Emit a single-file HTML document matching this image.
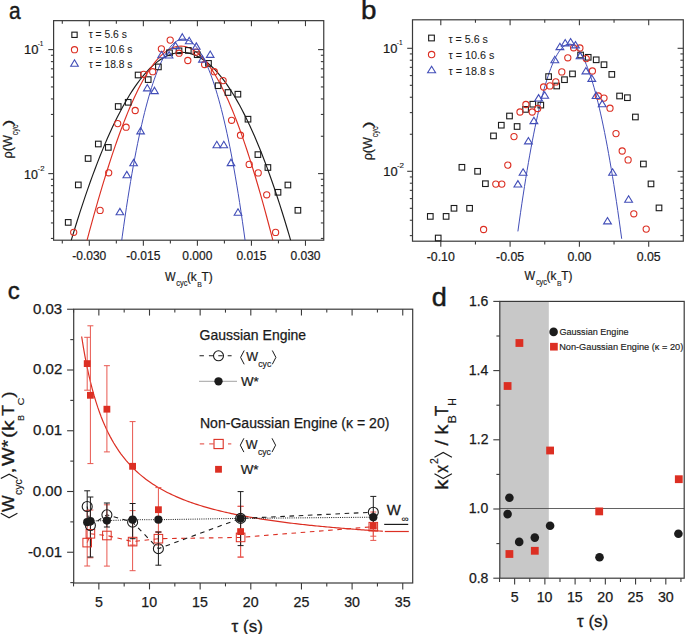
<!DOCTYPE html>
<html><head><meta charset="utf-8"><style>
html,body{margin:0;padding:0;background:#fff;}
svg{display:block;font-family:"Liberation Sans",sans-serif;}
</style></head><body>
<svg width="685" height="634" viewBox="0 0 685 634" font-family="Liberation Sans, sans-serif">
<defs>
<clipPath id="clipA"><rect x="53.6" y="20.65" width="270.15" height="219.55"/></clipPath>
<clipPath id="clipC"><rect x="73.7" y="309.2" width="339" height="273.8"/></clipPath>
</defs>
<rect width="685" height="634" fill="#fff"/>
<rect x="53.6" y="20.65" width="270.15" height="219.55" fill="none" stroke="#3a3a3a" stroke-width="1.2"/>
<line x1="62.3" y1="240.2" x2="62.3" y2="243.4" stroke="#3a3a3a" stroke-width="1.1"/>
<line x1="62.3" y1="20.65" x2="62.3" y2="23.65" stroke="#3a3a3a" stroke-width="1.1"/>
<line x1="89.32" y1="240.2" x2="89.32" y2="245.8" stroke="#3a3a3a" stroke-width="1.1"/>
<line x1="89.32" y1="20.65" x2="89.32" y2="26.15" stroke="#3a3a3a" stroke-width="1.1"/>
<line x1="116.34" y1="240.2" x2="116.34" y2="243.4" stroke="#3a3a3a" stroke-width="1.1"/>
<line x1="116.34" y1="20.65" x2="116.34" y2="23.65" stroke="#3a3a3a" stroke-width="1.1"/>
<line x1="143.36" y1="240.2" x2="143.36" y2="245.8" stroke="#3a3a3a" stroke-width="1.1"/>
<line x1="143.36" y1="20.65" x2="143.36" y2="26.15" stroke="#3a3a3a" stroke-width="1.1"/>
<line x1="170.38" y1="240.2" x2="170.38" y2="243.4" stroke="#3a3a3a" stroke-width="1.1"/>
<line x1="170.38" y1="20.65" x2="170.38" y2="23.65" stroke="#3a3a3a" stroke-width="1.1"/>
<line x1="197.4" y1="240.2" x2="197.4" y2="245.8" stroke="#3a3a3a" stroke-width="1.1"/>
<line x1="197.4" y1="20.65" x2="197.4" y2="26.15" stroke="#3a3a3a" stroke-width="1.1"/>
<line x1="224.42" y1="240.2" x2="224.42" y2="243.4" stroke="#3a3a3a" stroke-width="1.1"/>
<line x1="224.42" y1="20.65" x2="224.42" y2="23.65" stroke="#3a3a3a" stroke-width="1.1"/>
<line x1="251.44" y1="240.2" x2="251.44" y2="245.8" stroke="#3a3a3a" stroke-width="1.1"/>
<line x1="251.44" y1="20.65" x2="251.44" y2="26.15" stroke="#3a3a3a" stroke-width="1.1"/>
<line x1="278.46" y1="240.2" x2="278.46" y2="243.4" stroke="#3a3a3a" stroke-width="1.1"/>
<line x1="278.46" y1="20.65" x2="278.46" y2="23.65" stroke="#3a3a3a" stroke-width="1.1"/>
<line x1="305.48" y1="240.2" x2="305.48" y2="245.8" stroke="#3a3a3a" stroke-width="1.1"/>
<line x1="305.48" y1="20.65" x2="305.48" y2="26.15" stroke="#3a3a3a" stroke-width="1.1"/>
<line x1="50.9" y1="238.44" x2="53.6" y2="238.44" stroke="#3a3a3a" stroke-width="1.1"/>
<line x1="320.85" y1="238.44" x2="323.75" y2="238.44" stroke="#3a3a3a" stroke-width="1.1"/>
<line x1="50.9" y1="222.94" x2="53.6" y2="222.94" stroke="#3a3a3a" stroke-width="1.1"/>
<line x1="320.85" y1="222.94" x2="323.75" y2="222.94" stroke="#3a3a3a" stroke-width="1.1"/>
<line x1="50.9" y1="210.93" x2="53.6" y2="210.93" stroke="#3a3a3a" stroke-width="1.1"/>
<line x1="320.85" y1="210.93" x2="323.75" y2="210.93" stroke="#3a3a3a" stroke-width="1.1"/>
<line x1="50.9" y1="201.11" x2="53.6" y2="201.11" stroke="#3a3a3a" stroke-width="1.1"/>
<line x1="320.85" y1="201.11" x2="323.75" y2="201.11" stroke="#3a3a3a" stroke-width="1.1"/>
<line x1="50.9" y1="192.81" x2="53.6" y2="192.81" stroke="#3a3a3a" stroke-width="1.1"/>
<line x1="320.85" y1="192.81" x2="323.75" y2="192.81" stroke="#3a3a3a" stroke-width="1.1"/>
<line x1="50.9" y1="185.62" x2="53.6" y2="185.62" stroke="#3a3a3a" stroke-width="1.1"/>
<line x1="320.85" y1="185.62" x2="323.75" y2="185.62" stroke="#3a3a3a" stroke-width="1.1"/>
<line x1="50.9" y1="179.27" x2="53.6" y2="179.27" stroke="#3a3a3a" stroke-width="1.1"/>
<line x1="320.85" y1="179.27" x2="323.75" y2="179.27" stroke="#3a3a3a" stroke-width="1.1"/>
<line x1="48.3" y1="173.6" x2="53.6" y2="173.6" stroke="#3a3a3a" stroke-width="1.1"/>
<line x1="318.05" y1="173.6" x2="323.75" y2="173.6" stroke="#3a3a3a" stroke-width="1.1"/>
<line x1="50.9" y1="136.27" x2="53.6" y2="136.27" stroke="#3a3a3a" stroke-width="1.1"/>
<line x1="320.85" y1="136.27" x2="323.75" y2="136.27" stroke="#3a3a3a" stroke-width="1.1"/>
<line x1="50.9" y1="114.44" x2="53.6" y2="114.44" stroke="#3a3a3a" stroke-width="1.1"/>
<line x1="320.85" y1="114.44" x2="323.75" y2="114.44" stroke="#3a3a3a" stroke-width="1.1"/>
<line x1="50.9" y1="98.94" x2="53.6" y2="98.94" stroke="#3a3a3a" stroke-width="1.1"/>
<line x1="320.85" y1="98.94" x2="323.75" y2="98.94" stroke="#3a3a3a" stroke-width="1.1"/>
<line x1="50.9" y1="86.93" x2="53.6" y2="86.93" stroke="#3a3a3a" stroke-width="1.1"/>
<line x1="320.85" y1="86.93" x2="323.75" y2="86.93" stroke="#3a3a3a" stroke-width="1.1"/>
<line x1="50.9" y1="77.11" x2="53.6" y2="77.11" stroke="#3a3a3a" stroke-width="1.1"/>
<line x1="320.85" y1="77.11" x2="323.75" y2="77.11" stroke="#3a3a3a" stroke-width="1.1"/>
<line x1="50.9" y1="68.81" x2="53.6" y2="68.81" stroke="#3a3a3a" stroke-width="1.1"/>
<line x1="320.85" y1="68.81" x2="323.75" y2="68.81" stroke="#3a3a3a" stroke-width="1.1"/>
<line x1="50.9" y1="61.62" x2="53.6" y2="61.62" stroke="#3a3a3a" stroke-width="1.1"/>
<line x1="320.85" y1="61.62" x2="323.75" y2="61.62" stroke="#3a3a3a" stroke-width="1.1"/>
<line x1="50.9" y1="55.27" x2="53.6" y2="55.27" stroke="#3a3a3a" stroke-width="1.1"/>
<line x1="320.85" y1="55.27" x2="323.75" y2="55.27" stroke="#3a3a3a" stroke-width="1.1"/>
<line x1="48.3" y1="49.6" x2="53.6" y2="49.6" stroke="#3a3a3a" stroke-width="1.1"/>
<line x1="318.05" y1="49.6" x2="323.75" y2="49.6" stroke="#3a3a3a" stroke-width="1.1"/>
<text x="72.23" y="259.7" font-size="12" textLength="34.03" lengthAdjust="spacingAndGlyphs" fill="#1a1a1a" stroke="#1a1a1a" stroke-width="0.21">-0.030</text>
<text x="126.31" y="259.7" font-size="12" textLength="34.03" lengthAdjust="spacingAndGlyphs" fill="#1a1a1a" stroke="#1a1a1a" stroke-width="0.21">-0.015</text>
<text x="182.37" y="259.7" font-size="12" textLength="30.03" lengthAdjust="spacingAndGlyphs" fill="#1a1a1a" stroke="#1a1a1a" stroke-width="0.21">0.000</text>
<text x="236.45" y="259.7" font-size="12" textLength="30.03" lengthAdjust="spacingAndGlyphs" fill="#1a1a1a" stroke="#1a1a1a" stroke-width="0.21">0.015</text>
<text x="290.47" y="259.7" font-size="12" textLength="30.03" lengthAdjust="spacingAndGlyphs" fill="#1a1a1a" stroke="#1a1a1a" stroke-width="0.21">0.030</text>
<text x="24.02" y="54.4" font-size="13.5" textLength="14.46" lengthAdjust="spacingAndGlyphs" fill="#1a1a1a" stroke="#1a1a1a" stroke-width="0.24">10</text>
<text x="37.71" y="46.1" font-size="7.6" textLength="5.78" lengthAdjust="spacingAndGlyphs" fill="#1a1a1a" stroke="#1a1a1a" stroke-width="0.14">-1</text>
<text x="24.06" y="178.8" font-size="13.6" textLength="13.9" lengthAdjust="spacingAndGlyphs" fill="#1a1a1a" stroke="#1a1a1a" stroke-width="0.24">10</text>
<text x="37.55" y="170.7" font-size="8" textLength="6.93" lengthAdjust="spacingAndGlyphs" fill="#1a1a1a" stroke="#1a1a1a" stroke-width="0.14">-2</text>
<text x="9.06" y="18.8" font-size="24.5" textLength="11.66" lengthAdjust="spacingAndGlyphs" fill="#1a1a1a" stroke="#1a1a1a" stroke-width="0.44">a</text>
<rect x="71.85" y="32.15" width="5.3" height="5.3" fill="none" stroke="#1c1c1c" stroke-width="1.1"/>
<circle cx="74.5" cy="49.7" r="3.1" fill="none" stroke="#dc2f23" stroke-width="1.1"/>
<path d="M74.5 59.8L78.3 66.2L70.7 66.2Z" fill="none" stroke="#424eb8" stroke-width="1.1" stroke-linejoin="miter"/>
<text x="88.65" y="38.2" font-size="10.3" textLength="38.19" lengthAdjust="spacingAndGlyphs" fill="#1a1a1a" stroke="#1a1a1a" stroke-width="0.06">τ = 5.6 s</text>
<text x="88.65" y="53" font-size="10.3" textLength="43.8" lengthAdjust="spacingAndGlyphs" fill="#1a1a1a" stroke="#1a1a1a" stroke-width="0.06">τ = 10.6 s</text>
<text x="88.65" y="68" font-size="10.3" textLength="43.8" lengthAdjust="spacingAndGlyphs" fill="#1a1a1a" stroke="#1a1a1a" stroke-width="0.06">τ = 18.8 s</text>
<g transform="translate(11.8 157.6) rotate(-90)">
<text x="-0.82" y="0" font-size="12.4" textLength="23.29" lengthAdjust="spacingAndGlyphs" fill="#1a1a1a" stroke="#1a1a1a" stroke-width="0.22">ρ(W</text>
<text x="22.32" y="6" font-size="8.6" textLength="10.66" lengthAdjust="spacingAndGlyphs" fill="#1a1a1a" stroke="#1a1a1a" stroke-width="0.15">cyc</text>
<text x="31.4" y="0" font-size="12.4" textLength="6.66" lengthAdjust="spacingAndGlyphs" fill="#1a1a1a" stroke="#1a1a1a" stroke-width="0.22">)</text>
</g>
<text x="164.94" y="280.9" font-size="13" textLength="10.6" lengthAdjust="spacingAndGlyphs" fill="#1a1a1a" stroke="#1a1a1a" stroke-width="0.23">W</text>
<text x="176.3" y="286.3" font-size="8.8" textLength="11.18" lengthAdjust="spacingAndGlyphs" fill="#1a1a1a" stroke="#1a1a1a" stroke-width="0.16">cyc</text>
<text x="186.9" y="280.9" font-size="13" textLength="9.78" lengthAdjust="spacingAndGlyphs" fill="#1a1a1a" stroke="#1a1a1a" stroke-width="0.23">(k</text>
<text x="197.35" y="286.5" font-size="7.6" textLength="4.61" lengthAdjust="spacingAndGlyphs" fill="#1a1a1a" stroke="#1a1a1a" stroke-width="0.14">B</text>
<text x="201.56" y="280.9" font-size="13" textLength="11.2" lengthAdjust="spacingAndGlyphs" fill="#1a1a1a" stroke="#1a1a1a" stroke-width="0.23">T)</text>
<g clip-path="url(#clipA)">
<path d="M70 244.44 L72.49 236.11 L74.99 227.96 L77.48 219.99 L79.98 212.19 L82.47 204.57 L84.97 197.13 L87.46 189.88 L89.96 182.8 L92.45 175.9 L94.94 169.19 L97.44 162.65 L99.93 156.3 L102.43 150.14 L104.92 144.15 L107.42 138.35 L109.91 132.74 L112.4 127.31 L114.9 122.07 L117.39 117.02 L119.89 112.15 L122.38 107.47 L124.88 102.97 L127.37 98.67 L129.87 94.55 L132.36 90.63 L134.85 86.89 L137.35 83.34 L139.84 79.99 L142.34 76.82 L144.83 73.85 L147.33 71.06 L149.82 68.47 L152.31 66.07 L154.81 63.87 L157.3 61.86 L159.8 60.04 L162.29 58.41 L164.79 56.98 L167.28 55.74 L169.78 54.7 L172.27 53.85 L174.76 53.2 L177.26 52.74 L179.75 52.48 L182.25 52.41 L184.74 52.54 L187.24 52.87 L189.73 53.39 L192.22 54.11 L194.72 55.03 L197.21 56.14 L199.71 57.45 L202.2 58.96 L204.7 60.67 L207.19 62.57 L209.69 64.67 L212.18 66.97 L214.67 69.46 L217.17 72.16 L219.66 75.05 L222.16 78.14 L224.65 81.43 L227.15 84.91 L229.64 88.6 L232.13 92.48 L234.63 96.56 L237.12 100.84 L239.62 105.32 L242.11 110 L244.61 114.87 L247.1 119.94 L249.6 125.21 L252.09 130.68 L254.58 136.35 L257.08 142.22 L259.57 148.28 L262.07 154.54 L264.56 161 L267.06 167.66 L269.55 174.51 L272.04 181.56 L274.54 188.81 L277.03 196.25 L279.53 203.9 L282.02 211.74 L284.52 219.77 L287.01 228 L289.51 236.43 L292 245.06" fill="none" stroke="#1c1c1c" stroke-width="1.15"/>
<path d="M85 247.85 L87.13 239.84 L89.27 231.93 L91.4 224.13 L93.54 216.45 L95.67 208.88 L97.81 201.44 L99.94 194.13 L102.08 186.95 L104.21 179.9 L106.35 173 L108.48 166.25 L110.62 159.64 L112.75 153.19 L114.89 146.89 L117.02 140.76 L119.16 134.79 L121.29 128.99 L123.43 123.37 L125.56 117.92 L127.7 112.65 L129.83 107.56 L131.97 102.65 L134.1 97.94 L136.24 93.41 L138.37 89.08 L140.51 84.94 L142.64 81.01 L144.78 77.27 L146.91 73.74 L149.04 70.41 L151.18 67.29 L153.31 64.37 L155.45 61.67 L157.58 59.18 L159.72 56.91 L161.85 54.84 L163.99 53 L166.12 51.37 L168.26 49.97 L170.39 48.78 L172.53 47.81 L174.66 47.06 L176.8 46.54 L178.93 46.24 L181.07 46.16 L183.2 46.3 L185.34 46.67 L187.47 47.26 L189.61 48.07 L191.74 49.1 L193.88 50.36 L196.01 51.84 L198.15 53.55 L200.28 55.47 L202.42 57.61 L204.55 59.98 L206.69 62.56 L208.82 65.36 L210.96 68.37 L213.09 71.6 L215.22 75.05 L217.36 78.7 L219.49 82.57 L221.63 86.64 L223.76 90.92 L225.9 95.41 L228.03 100.1 L230.17 104.99 L232.3 110.07 L234.44 115.35 L236.57 120.83 L238.71 126.49 L240.84 132.34 L242.98 138.38 L245.11 144.6 L247.25 150.99 L249.38 157.56 L251.52 164.3 L253.65 171.21 L255.79 178.29 L257.92 185.52 L260.06 192.92 L262.19 200.46 L264.33 208.16 L266.46 216 L268.6 223.98 L270.73 232.09 L272.87 240.34 L275 248.72" fill="none" stroke="#dc2f23" stroke-width="1.15"/>
<path d="M120.8 247.2 L122.2 236.85 L123.6 226.83 L124.99 217.14 L126.39 207.78 L127.79 198.73 L129.19 190 L130.58 181.56 L131.98 173.43 L133.38 165.58 L134.78 158.02 L136.18 150.74 L137.57 143.73 L138.97 137 L140.37 130.52 L141.77 124.3 L143.16 118.34 L144.56 112.62 L145.96 107.15 L147.36 101.92 L148.76 96.92 L150.15 92.16 L151.55 87.62 L152.95 83.3 L154.35 79.2 L155.74 75.32 L157.14 71.65 L158.54 68.19 L159.94 64.93 L161.33 61.88 L162.73 59.03 L164.13 56.38 L165.53 53.93 L166.93 51.66 L168.32 49.59 L169.72 47.71 L171.12 46.02 L172.52 44.52 L173.91 43.19 L175.31 42.06 L176.71 41.11 L178.11 40.33 L179.51 39.74 L180.9 39.34 L182.3 39.11 L183.7 39.06 L185.1 39.19 L186.49 39.51 L187.89 40 L189.29 40.67 L190.69 41.53 L192.09 42.57 L193.48 43.79 L194.88 45.19 L196.28 46.79 L197.68 48.56 L199.07 50.53 L200.47 52.69 L201.87 55.04 L203.27 57.58 L204.67 60.32 L206.06 63.26 L207.46 66.41 L208.86 69.75 L210.26 73.3 L211.65 77.07 L213.05 81.04 L214.45 85.23 L215.85 89.65 L217.24 94.28 L218.64 99.15 L220.04 104.25 L221.44 109.58 L222.84 115.15 L224.23 120.97 L225.63 127.04 L227.03 133.36 L228.43 139.94 L229.82 146.78 L231.22 153.9 L232.62 161.29 L234.02 168.96 L235.42 176.92 L236.81 185.17 L238.21 193.72 L239.61 202.58 L241.01 211.75 L242.4 221.24 L243.8 231.05 L245.2 241.19" fill="none" stroke="#424eb8" stroke-width="1"/>
</g>
<rect x="65.4" y="219.6" width="5.6" height="5.6" fill="none" stroke="#1c1c1c" stroke-width="1.1"/>
<rect x="75.5" y="182.1" width="5.6" height="5.6" fill="none" stroke="#1c1c1c" stroke-width="1.1"/>
<rect x="85.3" y="155.7" width="5.6" height="5.6" fill="none" stroke="#1c1c1c" stroke-width="1.1"/>
<rect x="95.5" y="141.2" width="5.6" height="5.6" fill="none" stroke="#1c1c1c" stroke-width="1.1"/>
<rect x="105.5" y="144.6" width="5.6" height="5.6" fill="none" stroke="#1c1c1c" stroke-width="1.1"/>
<rect x="115.4" y="103.7" width="5.6" height="5.6" fill="none" stroke="#1c1c1c" stroke-width="1.1"/>
<rect x="125.4" y="99.5" width="5.6" height="5.6" fill="none" stroke="#1c1c1c" stroke-width="1.1"/>
<rect x="135.3" y="72.2" width="5.6" height="5.6" fill="none" stroke="#1c1c1c" stroke-width="1.1"/>
<rect x="145.4" y="76.8" width="5.6" height="5.6" fill="none" stroke="#1c1c1c" stroke-width="1.1"/>
<rect x="155.6" y="64.1" width="5.6" height="5.6" fill="none" stroke="#1c1c1c" stroke-width="1.1"/>
<rect x="166.7" y="50" width="5.6" height="5.6" fill="none" stroke="#1c1c1c" stroke-width="1.1"/>
<rect x="176.2" y="48" width="5.6" height="5.6" fill="none" stroke="#1c1c1c" stroke-width="1.1"/>
<rect x="185.5" y="47.6" width="5.6" height="5.6" fill="none" stroke="#1c1c1c" stroke-width="1.1"/>
<rect x="194.4" y="51.9" width="5.6" height="5.6" fill="none" stroke="#1c1c1c" stroke-width="1.1"/>
<rect x="205.7" y="60.6" width="5.6" height="5.6" fill="none" stroke="#1c1c1c" stroke-width="1.1"/>
<rect x="215.3" y="82.9" width="5.6" height="5.6" fill="none" stroke="#1c1c1c" stroke-width="1.1"/>
<rect x="225.2" y="89.7" width="5.6" height="5.6" fill="none" stroke="#1c1c1c" stroke-width="1.1"/>
<rect x="235.1" y="91.4" width="5.6" height="5.6" fill="none" stroke="#1c1c1c" stroke-width="1.1"/>
<rect x="245.2" y="116.4" width="5.6" height="5.6" fill="none" stroke="#1c1c1c" stroke-width="1.1"/>
<rect x="255.1" y="151.8" width="5.6" height="5.6" fill="none" stroke="#1c1c1c" stroke-width="1.1"/>
<rect x="265.1" y="164.7" width="5.6" height="5.6" fill="none" stroke="#1c1c1c" stroke-width="1.1"/>
<rect x="275.2" y="189.5" width="5.6" height="5.6" fill="none" stroke="#1c1c1c" stroke-width="1.1"/>
<rect x="285.1" y="182.2" width="5.6" height="5.6" fill="none" stroke="#1c1c1c" stroke-width="1.1"/>
<rect x="295.1" y="207.5" width="5.6" height="5.6" fill="none" stroke="#1c1c1c" stroke-width="1.1"/>
<circle cx="73.7" cy="232.3" r="3.1" fill="none" stroke="#dc2f23" stroke-width="1.1"/>
<circle cx="100.1" cy="210.4" r="3.1" fill="none" stroke="#dc2f23" stroke-width="1.1"/>
<circle cx="108.7" cy="172.8" r="3.1" fill="none" stroke="#dc2f23" stroke-width="1.1"/>
<circle cx="117.7" cy="123.6" r="3.1" fill="none" stroke="#dc2f23" stroke-width="1.1"/>
<circle cx="126.1" cy="127.2" r="3.1" fill="none" stroke="#dc2f23" stroke-width="1.1"/>
<circle cx="135.2" cy="110.5" r="3.1" fill="none" stroke="#dc2f23" stroke-width="1.1"/>
<circle cx="143.7" cy="74.3" r="3.1" fill="none" stroke="#dc2f23" stroke-width="1.1"/>
<circle cx="152.7" cy="71.7" r="3.1" fill="none" stroke="#dc2f23" stroke-width="1.1"/>
<circle cx="161.4" cy="48.8" r="3.1" fill="none" stroke="#dc2f23" stroke-width="1.1"/>
<circle cx="170.2" cy="40.1" r="3.1" fill="none" stroke="#dc2f23" stroke-width="1.1"/>
<circle cx="179.1" cy="53.2" r="3.1" fill="none" stroke="#dc2f23" stroke-width="1.1"/>
<circle cx="187.8" cy="60.5" r="3.1" fill="none" stroke="#dc2f23" stroke-width="1.1"/>
<circle cx="196.2" cy="52.1" r="3.1" fill="none" stroke="#dc2f23" stroke-width="1.1"/>
<circle cx="204.6" cy="64.5" r="3.1" fill="none" stroke="#dc2f23" stroke-width="1.1"/>
<circle cx="214.3" cy="71.7" r="3.1" fill="none" stroke="#dc2f23" stroke-width="1.1"/>
<circle cx="223.1" cy="80.6" r="3.1" fill="none" stroke="#dc2f23" stroke-width="1.1"/>
<circle cx="231.6" cy="120.3" r="3.1" fill="none" stroke="#dc2f23" stroke-width="1.1"/>
<circle cx="240.5" cy="135.2" r="3.1" fill="none" stroke="#dc2f23" stroke-width="1.1"/>
<circle cx="249.2" cy="164.4" r="3.1" fill="none" stroke="#dc2f23" stroke-width="1.1"/>
<circle cx="258.2" cy="172.9" r="3.1" fill="none" stroke="#dc2f23" stroke-width="1.1"/>
<circle cx="266.7" cy="194.8" r="3.1" fill="none" stroke="#dc2f23" stroke-width="1.1"/>
<circle cx="275.6" cy="232.4" r="3.1" fill="none" stroke="#dc2f23" stroke-width="1.1"/>
<path d="M119.9 208.4L123.7 214.8L116.1 214.8Z" fill="none" stroke="#424eb8" stroke-width="1.1" stroke-linejoin="miter"/>
<path d="M126.8 171.4L130.6 177.8L123 177.8Z" fill="none" stroke="#424eb8" stroke-width="1.1" stroke-linejoin="miter"/>
<path d="M133.6 159.4L137.4 165.8L129.8 165.8Z" fill="none" stroke="#424eb8" stroke-width="1.1" stroke-linejoin="miter"/>
<path d="M140.6 127.5L144.4 133.9L136.8 133.9Z" fill="none" stroke="#424eb8" stroke-width="1.1" stroke-linejoin="miter"/>
<path d="M147.3 84.5L151.1 90.9L143.5 90.9Z" fill="none" stroke="#424eb8" stroke-width="1.1" stroke-linejoin="miter"/>
<path d="M154.5 87.2L158.3 93.6L150.7 93.6Z" fill="none" stroke="#424eb8" stroke-width="1.1" stroke-linejoin="miter"/>
<path d="M161.6 51.3L165.4 57.7L157.8 57.7Z" fill="none" stroke="#424eb8" stroke-width="1.1" stroke-linejoin="miter"/>
<path d="M169.1 51.6L172.9 58L165.3 58Z" fill="none" stroke="#424eb8" stroke-width="1.1" stroke-linejoin="miter"/>
<path d="M175.5 42.2L179.3 48.6L171.7 48.6Z" fill="none" stroke="#424eb8" stroke-width="1.1" stroke-linejoin="miter"/>
<path d="M182.3 33.7L186.1 40.1L178.5 40.1Z" fill="none" stroke="#424eb8" stroke-width="1.1" stroke-linejoin="miter"/>
<path d="M189.2 37.3L193 43.7L185.4 43.7Z" fill="none" stroke="#424eb8" stroke-width="1.1" stroke-linejoin="miter"/>
<path d="M196.3 42.9L200.1 49.3L192.5 49.3Z" fill="none" stroke="#424eb8" stroke-width="1.1" stroke-linejoin="miter"/>
<path d="M202.4 55.7L206.2 62.1L198.6 62.1Z" fill="none" stroke="#424eb8" stroke-width="1.1" stroke-linejoin="miter"/>
<path d="M210.2 51L214 57.4L206.4 57.4Z" fill="none" stroke="#424eb8" stroke-width="1.1" stroke-linejoin="miter"/>
<path d="M216.8 141.3L220.6 147.7L213 147.7Z" fill="none" stroke="#424eb8" stroke-width="1.1" stroke-linejoin="miter"/>
<path d="M223.8 141.3L227.6 147.7L220 147.7Z" fill="none" stroke="#424eb8" stroke-width="1.1" stroke-linejoin="miter"/>
<path d="M231 159.2L234.8 165.6L227.2 165.6Z" fill="none" stroke="#424eb8" stroke-width="1.1" stroke-linejoin="miter"/>
<path d="M238 208.8L241.8 215.2L234.2 215.2Z" fill="none" stroke="#424eb8" stroke-width="1.1" stroke-linejoin="miter"/>
<rect x="412.5" y="19.8" width="270.8" height="221.4" fill="none" stroke="#3a3a3a" stroke-width="1.2"/>
<line x1="440.8" y1="241.2" x2="440.8" y2="246.8" stroke="#3a3a3a" stroke-width="1.1"/>
<line x1="440.8" y1="19.8" x2="440.8" y2="25.3" stroke="#3a3a3a" stroke-width="1.1"/>
<line x1="475.45" y1="241.2" x2="475.45" y2="244.4" stroke="#3a3a3a" stroke-width="1.1"/>
<line x1="475.45" y1="19.8" x2="475.45" y2="22.8" stroke="#3a3a3a" stroke-width="1.1"/>
<line x1="510.1" y1="241.2" x2="510.1" y2="246.8" stroke="#3a3a3a" stroke-width="1.1"/>
<line x1="510.1" y1="19.8" x2="510.1" y2="25.3" stroke="#3a3a3a" stroke-width="1.1"/>
<line x1="544.75" y1="241.2" x2="544.75" y2="244.4" stroke="#3a3a3a" stroke-width="1.1"/>
<line x1="544.75" y1="19.8" x2="544.75" y2="22.8" stroke="#3a3a3a" stroke-width="1.1"/>
<line x1="579.4" y1="241.2" x2="579.4" y2="246.8" stroke="#3a3a3a" stroke-width="1.1"/>
<line x1="579.4" y1="19.8" x2="579.4" y2="25.3" stroke="#3a3a3a" stroke-width="1.1"/>
<line x1="614.05" y1="241.2" x2="614.05" y2="244.4" stroke="#3a3a3a" stroke-width="1.1"/>
<line x1="614.05" y1="19.8" x2="614.05" y2="22.8" stroke="#3a3a3a" stroke-width="1.1"/>
<line x1="648.7" y1="241.2" x2="648.7" y2="246.8" stroke="#3a3a3a" stroke-width="1.1"/>
<line x1="648.7" y1="19.8" x2="648.7" y2="25.3" stroke="#3a3a3a" stroke-width="1.1"/>
<line x1="409.8" y1="235.61" x2="412.5" y2="235.61" stroke="#3a3a3a" stroke-width="1.1"/>
<line x1="680.4" y1="235.61" x2="683.3" y2="235.61" stroke="#3a3a3a" stroke-width="1.1"/>
<line x1="409.8" y1="220.25" x2="412.5" y2="220.25" stroke="#3a3a3a" stroke-width="1.1"/>
<line x1="680.4" y1="220.25" x2="683.3" y2="220.25" stroke="#3a3a3a" stroke-width="1.1"/>
<line x1="409.8" y1="208.33" x2="412.5" y2="208.33" stroke="#3a3a3a" stroke-width="1.1"/>
<line x1="680.4" y1="208.33" x2="683.3" y2="208.33" stroke="#3a3a3a" stroke-width="1.1"/>
<line x1="409.8" y1="198.59" x2="412.5" y2="198.59" stroke="#3a3a3a" stroke-width="1.1"/>
<line x1="680.4" y1="198.59" x2="683.3" y2="198.59" stroke="#3a3a3a" stroke-width="1.1"/>
<line x1="409.8" y1="190.35" x2="412.5" y2="190.35" stroke="#3a3a3a" stroke-width="1.1"/>
<line x1="680.4" y1="190.35" x2="683.3" y2="190.35" stroke="#3a3a3a" stroke-width="1.1"/>
<line x1="409.8" y1="183.22" x2="412.5" y2="183.22" stroke="#3a3a3a" stroke-width="1.1"/>
<line x1="680.4" y1="183.22" x2="683.3" y2="183.22" stroke="#3a3a3a" stroke-width="1.1"/>
<line x1="409.8" y1="176.93" x2="412.5" y2="176.93" stroke="#3a3a3a" stroke-width="1.1"/>
<line x1="680.4" y1="176.93" x2="683.3" y2="176.93" stroke="#3a3a3a" stroke-width="1.1"/>
<line x1="407.2" y1="171.3" x2="412.5" y2="171.3" stroke="#3a3a3a" stroke-width="1.1"/>
<line x1="677.6" y1="171.3" x2="683.3" y2="171.3" stroke="#3a3a3a" stroke-width="1.1"/>
<line x1="409.8" y1="134.27" x2="412.5" y2="134.27" stroke="#3a3a3a" stroke-width="1.1"/>
<line x1="680.4" y1="134.27" x2="683.3" y2="134.27" stroke="#3a3a3a" stroke-width="1.1"/>
<line x1="409.8" y1="112.61" x2="412.5" y2="112.61" stroke="#3a3a3a" stroke-width="1.1"/>
<line x1="680.4" y1="112.61" x2="683.3" y2="112.61" stroke="#3a3a3a" stroke-width="1.1"/>
<line x1="409.8" y1="97.25" x2="412.5" y2="97.25" stroke="#3a3a3a" stroke-width="1.1"/>
<line x1="680.4" y1="97.25" x2="683.3" y2="97.25" stroke="#3a3a3a" stroke-width="1.1"/>
<line x1="409.8" y1="85.33" x2="412.5" y2="85.33" stroke="#3a3a3a" stroke-width="1.1"/>
<line x1="680.4" y1="85.33" x2="683.3" y2="85.33" stroke="#3a3a3a" stroke-width="1.1"/>
<line x1="409.8" y1="75.59" x2="412.5" y2="75.59" stroke="#3a3a3a" stroke-width="1.1"/>
<line x1="680.4" y1="75.59" x2="683.3" y2="75.59" stroke="#3a3a3a" stroke-width="1.1"/>
<line x1="409.8" y1="67.35" x2="412.5" y2="67.35" stroke="#3a3a3a" stroke-width="1.1"/>
<line x1="680.4" y1="67.35" x2="683.3" y2="67.35" stroke="#3a3a3a" stroke-width="1.1"/>
<line x1="409.8" y1="60.22" x2="412.5" y2="60.22" stroke="#3a3a3a" stroke-width="1.1"/>
<line x1="680.4" y1="60.22" x2="683.3" y2="60.22" stroke="#3a3a3a" stroke-width="1.1"/>
<line x1="409.8" y1="53.93" x2="412.5" y2="53.93" stroke="#3a3a3a" stroke-width="1.1"/>
<line x1="680.4" y1="53.93" x2="683.3" y2="53.93" stroke="#3a3a3a" stroke-width="1.1"/>
<line x1="407.2" y1="48.3" x2="412.5" y2="48.3" stroke="#3a3a3a" stroke-width="1.1"/>
<line x1="677.6" y1="48.3" x2="683.3" y2="48.3" stroke="#3a3a3a" stroke-width="1.1"/>
<text x="426.72" y="261.1" font-size="12.3" textLength="28.04" lengthAdjust="spacingAndGlyphs" fill="#1a1a1a" stroke="#1a1a1a" stroke-width="0.22">-0.10</text>
<text x="496.05" y="261.1" font-size="12.3" textLength="28.04" lengthAdjust="spacingAndGlyphs" fill="#1a1a1a" stroke="#1a1a1a" stroke-width="0.22">-0.05</text>
<text x="567.41" y="261.1" font-size="12.3" textLength="23.94" lengthAdjust="spacingAndGlyphs" fill="#1a1a1a" stroke="#1a1a1a" stroke-width="0.22">0.00</text>
<text x="636.74" y="261.1" font-size="12.3" textLength="23.94" lengthAdjust="spacingAndGlyphs" fill="#1a1a1a" stroke="#1a1a1a" stroke-width="0.22">0.05</text>
<text x="383.03" y="53.3" font-size="13" textLength="14.35" lengthAdjust="spacingAndGlyphs" fill="#1a1a1a" stroke="#1a1a1a" stroke-width="0.23">10</text>
<text x="396.81" y="45.2" font-size="6.8" textLength="5.78" lengthAdjust="spacingAndGlyphs" fill="#1a1a1a" stroke="#1a1a1a" stroke-width="0.12">-1</text>
<text x="383.23" y="176.4" font-size="13" textLength="14.35" lengthAdjust="spacingAndGlyphs" fill="#1a1a1a" stroke="#1a1a1a" stroke-width="0.23">10</text>
<text x="396.94" y="168.1" font-size="6.8" textLength="7.16" lengthAdjust="spacingAndGlyphs" fill="#1a1a1a" stroke="#1a1a1a" stroke-width="0.12">-2</text>
<text x="360.99" y="19.2" font-size="26" textLength="15.45" lengthAdjust="spacingAndGlyphs" fill="#1a1a1a" stroke="#1a1a1a" stroke-width="0.46">b</text>
<rect x="428.65" y="35.15" width="5.7" height="5.7" fill="none" stroke="#1c1c1c" stroke-width="1.1"/>
<circle cx="431.6" cy="54.6" r="3.2" fill="none" stroke="#dc2f23" stroke-width="1.1"/>
<path d="M431.6 66.2L435.6 72.8L427.6 72.8Z" fill="none" stroke="#424eb8" stroke-width="1.1" stroke-linejoin="miter"/>
<text x="448.44" y="42.9" font-size="11" textLength="39.51" lengthAdjust="spacingAndGlyphs" fill="#1a1a1a" stroke="#1a1a1a" stroke-width="0.06">τ = 5.6 s</text>
<text x="448.44" y="59.3" font-size="11" textLength="45.93" lengthAdjust="spacingAndGlyphs" fill="#1a1a1a" stroke="#1a1a1a" stroke-width="0.06">τ = 10.6 s</text>
<text x="448.44" y="75.1" font-size="11" textLength="45.93" lengthAdjust="spacingAndGlyphs" fill="#1a1a1a" stroke="#1a1a1a" stroke-width="0.06">τ = 18.8 s</text>
<g transform="translate(371.6 159.5) rotate(-90)">
<text x="-0.82" y="0" font-size="12.4" textLength="23.29" lengthAdjust="spacingAndGlyphs" fill="#1a1a1a" stroke="#1a1a1a" stroke-width="0.22">ρ(W</text>
<text x="22.32" y="6" font-size="8.6" textLength="10.66" lengthAdjust="spacingAndGlyphs" fill="#1a1a1a" stroke="#1a1a1a" stroke-width="0.15">cyc</text>
<text x="31.4" y="0" font-size="12.4" textLength="6.66" lengthAdjust="spacingAndGlyphs" fill="#1a1a1a" stroke="#1a1a1a" stroke-width="0.22">)</text>
</g>
<text x="524.54" y="280" font-size="13" textLength="10.6" lengthAdjust="spacingAndGlyphs" fill="#1a1a1a" stroke="#1a1a1a" stroke-width="0.23">W</text>
<text x="535.9" y="285.4" font-size="8.8" textLength="11.18" lengthAdjust="spacingAndGlyphs" fill="#1a1a1a" stroke="#1a1a1a" stroke-width="0.16">cyc</text>
<text x="546.5" y="280" font-size="13" textLength="9.78" lengthAdjust="spacingAndGlyphs" fill="#1a1a1a" stroke="#1a1a1a" stroke-width="0.23">(k</text>
<text x="556.95" y="285.6" font-size="7.6" textLength="4.61" lengthAdjust="spacingAndGlyphs" fill="#1a1a1a" stroke="#1a1a1a" stroke-width="0.14">B</text>
<text x="561.16" y="280" font-size="13" textLength="11.2" lengthAdjust="spacingAndGlyphs" fill="#1a1a1a" stroke="#1a1a1a" stroke-width="0.23">T)</text>
<path d="M517.9 231.41 L519.21 221.96 L520.53 212.75 L521.84 203.79 L523.16 195.07 L524.47 186.59 L525.78 178.36 L527.1 170.38 L528.41 162.64 L529.73 155.14 L531.04 147.89 L532.35 140.89 L533.67 134.13 L534.98 127.61 L536.29 121.34 L537.61 115.31 L538.92 109.53 L540.24 103.99 L541.55 98.7 L542.86 93.65 L544.18 88.85 L545.49 84.29 L546.81 79.98 L548.12 75.91 L549.43 72.09 L550.75 68.51 L552.06 65.17 L553.38 62.08 L554.69 59.24 L556 56.64 L557.32 54.29 L558.63 52.18 L559.95 50.31 L561.26 48.69 L562.57 47.31 L563.89 46.18 L565.2 45.3 L566.52 44.66 L567.83 44.26 L569.14 44.11 L570.46 44.2 L571.77 44.54 L573.08 45.12 L574.4 45.95 L575.71 47.02 L577.03 48.34 L578.34 49.9 L579.65 51.71 L580.97 53.76 L582.28 56.06 L583.6 58.6 L584.91 61.38 L586.22 64.41 L587.54 67.69 L588.85 71.21 L590.17 74.97 L591.48 78.98 L592.79 83.24 L594.11 87.74 L595.42 92.48 L596.74 97.47 L598.05 102.7 L599.36 108.18 L600.68 113.91 L601.99 119.87 L603.31 126.09 L604.62 132.54 L605.93 139.25 L607.25 146.19 L608.56 153.39 L609.87 160.82 L611.19 168.51 L612.5 176.43 L613.82 184.6 L615.13 193.02 L616.44 201.68 L617.76 210.59 L619.07 219.74 L620.39 229.13 L621.7 238.77" fill="none" stroke="#424eb8" stroke-width="1"/>
<rect x="427.5" y="213.6" width="5.6" height="5.6" fill="none" stroke="#1c1c1c" stroke-width="1.1"/>
<rect x="435.4" y="235.2" width="5.6" height="5.6" fill="none" stroke="#1c1c1c" stroke-width="1.1"/>
<rect x="443.3" y="213.6" width="5.6" height="5.6" fill="none" stroke="#1c1c1c" stroke-width="1.1"/>
<rect x="451.2" y="205.5" width="5.6" height="5.6" fill="none" stroke="#1c1c1c" stroke-width="1.1"/>
<rect x="459.1" y="164.5" width="5.6" height="5.6" fill="none" stroke="#1c1c1c" stroke-width="1.1"/>
<rect x="466.8" y="205.5" width="5.6" height="5.6" fill="none" stroke="#1c1c1c" stroke-width="1.1"/>
<rect x="474.8" y="168.5" width="5.6" height="5.6" fill="none" stroke="#1c1c1c" stroke-width="1.1"/>
<rect x="482.6" y="180.9" width="5.6" height="5.6" fill="none" stroke="#1c1c1c" stroke-width="1.1"/>
<rect x="490.7" y="133.1" width="5.6" height="5.6" fill="none" stroke="#1c1c1c" stroke-width="1.1"/>
<rect x="498.5" y="122.4" width="5.6" height="5.6" fill="none" stroke="#1c1c1c" stroke-width="1.1"/>
<rect x="506.7" y="113.2" width="5.6" height="5.6" fill="none" stroke="#1c1c1c" stroke-width="1.1"/>
<rect x="514.3" y="123.7" width="5.6" height="5.6" fill="none" stroke="#1c1c1c" stroke-width="1.1"/>
<rect x="522.8" y="106.6" width="5.6" height="5.6" fill="none" stroke="#1c1c1c" stroke-width="1.1"/>
<rect x="530" y="101.4" width="5.6" height="5.6" fill="none" stroke="#1c1c1c" stroke-width="1.1"/>
<rect x="538" y="102.3" width="5.6" height="5.6" fill="none" stroke="#1c1c1c" stroke-width="1.1"/>
<rect x="545.8" y="73.8" width="5.6" height="5.6" fill="none" stroke="#1c1c1c" stroke-width="1.1"/>
<rect x="553.9" y="83.2" width="5.6" height="5.6" fill="none" stroke="#1c1c1c" stroke-width="1.1"/>
<rect x="561.7" y="76.9" width="5.6" height="5.6" fill="none" stroke="#1c1c1c" stroke-width="1.1"/>
<rect x="569.7" y="71.1" width="5.6" height="5.6" fill="none" stroke="#1c1c1c" stroke-width="1.1"/>
<rect x="577.8" y="52.2" width="5.6" height="5.6" fill="none" stroke="#1c1c1c" stroke-width="1.1"/>
<rect x="585.4" y="54.5" width="5.6" height="5.6" fill="none" stroke="#1c1c1c" stroke-width="1.1"/>
<rect x="593.4" y="57" width="5.6" height="5.6" fill="none" stroke="#1c1c1c" stroke-width="1.1"/>
<rect x="601.2" y="61.9" width="5.6" height="5.6" fill="none" stroke="#1c1c1c" stroke-width="1.1"/>
<rect x="609" y="71.6" width="5.6" height="5.6" fill="none" stroke="#1c1c1c" stroke-width="1.1"/>
<rect x="616.8" y="93.2" width="5.6" height="5.6" fill="none" stroke="#1c1c1c" stroke-width="1.1"/>
<rect x="624.6" y="94.9" width="5.6" height="5.6" fill="none" stroke="#1c1c1c" stroke-width="1.1"/>
<rect x="632.6" y="114.2" width="5.6" height="5.6" fill="none" stroke="#1c1c1c" stroke-width="1.1"/>
<rect x="640.6" y="161.2" width="5.6" height="5.6" fill="none" stroke="#1c1c1c" stroke-width="1.1"/>
<rect x="648.2" y="181.1" width="5.6" height="5.6" fill="none" stroke="#1c1c1c" stroke-width="1.1"/>
<rect x="656.2" y="205.1" width="5.6" height="5.6" fill="none" stroke="#1c1c1c" stroke-width="1.1"/>
<circle cx="483.6" cy="229.5" r="3.1" fill="none" stroke="#dc2f23" stroke-width="1.1"/>
<circle cx="495.8" cy="184.1" r="3.1" fill="none" stroke="#dc2f23" stroke-width="1.1"/>
<circle cx="501.8" cy="184.1" r="3.1" fill="none" stroke="#dc2f23" stroke-width="1.1"/>
<circle cx="507.8" cy="165.1" r="3.1" fill="none" stroke="#dc2f23" stroke-width="1.1"/>
<circle cx="514" cy="136.6" r="3.1" fill="none" stroke="#dc2f23" stroke-width="1.1"/>
<circle cx="520" cy="112" r="3.1" fill="none" stroke="#dc2f23" stroke-width="1.1"/>
<circle cx="525.9" cy="104.5" r="3.1" fill="none" stroke="#dc2f23" stroke-width="1.1"/>
<circle cx="532.2" cy="112" r="3.1" fill="none" stroke="#dc2f23" stroke-width="1.1"/>
<circle cx="537.7" cy="108.5" r="3.1" fill="none" stroke="#dc2f23" stroke-width="1.1"/>
<circle cx="543.6" cy="87" r="3.1" fill="none" stroke="#dc2f23" stroke-width="1.1"/>
<circle cx="549.9" cy="85.9" r="3.1" fill="none" stroke="#dc2f23" stroke-width="1.1"/>
<circle cx="555.8" cy="81.9" r="3.1" fill="none" stroke="#dc2f23" stroke-width="1.1"/>
<circle cx="561.8" cy="71.9" r="3.1" fill="none" stroke="#dc2f23" stroke-width="1.1"/>
<circle cx="567.8" cy="57.8" r="3.1" fill="none" stroke="#dc2f23" stroke-width="1.1"/>
<circle cx="573.6" cy="47.8" r="3.1" fill="none" stroke="#dc2f23" stroke-width="1.1"/>
<circle cx="579.9" cy="48" r="3.1" fill="none" stroke="#dc2f23" stroke-width="1.1"/>
<circle cx="586.2" cy="58.6" r="3.1" fill="none" stroke="#dc2f23" stroke-width="1.1"/>
<circle cx="592.4" cy="71" r="3.1" fill="none" stroke="#dc2f23" stroke-width="1.1"/>
<circle cx="598.3" cy="96" r="3.1" fill="none" stroke="#dc2f23" stroke-width="1.1"/>
<circle cx="604" cy="98.1" r="3.1" fill="none" stroke="#dc2f23" stroke-width="1.1"/>
<circle cx="610" cy="108.2" r="3.1" fill="none" stroke="#dc2f23" stroke-width="1.1"/>
<circle cx="616" cy="133.6" r="3.1" fill="none" stroke="#dc2f23" stroke-width="1.1"/>
<circle cx="622.2" cy="151" r="3.1" fill="none" stroke="#dc2f23" stroke-width="1.1"/>
<circle cx="628.1" cy="159.9" r="3.1" fill="none" stroke="#dc2f23" stroke-width="1.1"/>
<circle cx="633.8" cy="213.8" r="3.1" fill="none" stroke="#dc2f23" stroke-width="1.1"/>
<circle cx="646.2" cy="229.1" r="3.1" fill="none" stroke="#dc2f23" stroke-width="1.1"/>
<path d="M517.9 180.6L521.8 187L514 187Z" fill="none" stroke="#424eb8" stroke-width="1.1" stroke-linejoin="miter"/>
<path d="M523.1 168.8L527 175.2L519.2 175.2Z" fill="none" stroke="#424eb8" stroke-width="1.1" stroke-linejoin="miter"/>
<path d="M528.4 137.5L532.3 143.9L524.5 143.9Z" fill="none" stroke="#424eb8" stroke-width="1.1" stroke-linejoin="miter"/>
<path d="M533.9 117.2L537.8 123.6L530 123.6Z" fill="none" stroke="#424eb8" stroke-width="1.1" stroke-linejoin="miter"/>
<path d="M538.6 94.6L542.5 101L534.7 101Z" fill="none" stroke="#424eb8" stroke-width="1.1" stroke-linejoin="miter"/>
<path d="M544.7 91.8L548.6 98.2L540.8 98.2Z" fill="none" stroke="#424eb8" stroke-width="1.1" stroke-linejoin="miter"/>
<path d="M554.8 56.3L558.7 62.7L550.9 62.7Z" fill="none" stroke="#424eb8" stroke-width="1.1" stroke-linejoin="miter"/>
<path d="M559.9 43.2L563.8 49.6L556 49.6Z" fill="none" stroke="#424eb8" stroke-width="1.1" stroke-linejoin="miter"/>
<path d="M565.2 39.5L569.1 45.9L561.3 45.9Z" fill="none" stroke="#424eb8" stroke-width="1.1" stroke-linejoin="miter"/>
<path d="M570.6 38.5L574.5 44.9L566.7 44.9Z" fill="none" stroke="#424eb8" stroke-width="1.1" stroke-linejoin="miter"/>
<path d="M575.5 41.5L579.4 47.9L571.6 47.9Z" fill="none" stroke="#424eb8" stroke-width="1.1" stroke-linejoin="miter"/>
<path d="M580.1 52.4L584 58.8L576.2 58.8Z" fill="none" stroke="#424eb8" stroke-width="1.1" stroke-linejoin="miter"/>
<path d="M585.9 67.5L589.8 73.9L582 73.9Z" fill="none" stroke="#424eb8" stroke-width="1.1" stroke-linejoin="miter"/>
<path d="M591.8 75L595.7 81.4L587.9 81.4Z" fill="none" stroke="#424eb8" stroke-width="1.1" stroke-linejoin="miter"/>
<path d="M596.1 92.1L600 98.5L592.2 98.5Z" fill="none" stroke="#424eb8" stroke-width="1.1" stroke-linejoin="miter"/>
<path d="M602.2 100.4L606.1 106.8L598.3 106.8Z" fill="none" stroke="#424eb8" stroke-width="1.1" stroke-linejoin="miter"/>
<path d="M607.5 217.5L611.4 223.9L603.6 223.9Z" fill="none" stroke="#424eb8" stroke-width="1.1" stroke-linejoin="miter"/>
<path d="M612.6 168.8L616.5 175.2L608.7 175.2Z" fill="none" stroke="#424eb8" stroke-width="1.1" stroke-linejoin="miter"/>
<path d="M628.6 195.8L632.5 202.2L624.7 202.2Z" fill="none" stroke="#424eb8" stroke-width="1.1" stroke-linejoin="miter"/>
<rect x="73.7" y="309.2" width="339" height="273.8" fill="none" stroke="#3a3a3a" stroke-width="1.2"/>
<line x1="73.53" y1="583" x2="73.53" y2="586.4" stroke="#3a3a3a" stroke-width="1.1"/>
<line x1="73.53" y1="309.2" x2="73.53" y2="312.6" stroke="#3a3a3a" stroke-width="1.1"/>
<line x1="98.85" y1="583" x2="98.85" y2="589.4" stroke="#3a3a3a" stroke-width="1.1"/>
<line x1="98.85" y1="309.2" x2="98.85" y2="315.6" stroke="#3a3a3a" stroke-width="1.1"/>
<line x1="124.18" y1="583" x2="124.18" y2="586.4" stroke="#3a3a3a" stroke-width="1.1"/>
<line x1="124.18" y1="309.2" x2="124.18" y2="312.6" stroke="#3a3a3a" stroke-width="1.1"/>
<line x1="149.5" y1="583" x2="149.5" y2="589.4" stroke="#3a3a3a" stroke-width="1.1"/>
<line x1="149.5" y1="309.2" x2="149.5" y2="315.6" stroke="#3a3a3a" stroke-width="1.1"/>
<line x1="174.83" y1="583" x2="174.83" y2="586.4" stroke="#3a3a3a" stroke-width="1.1"/>
<line x1="174.83" y1="309.2" x2="174.83" y2="312.6" stroke="#3a3a3a" stroke-width="1.1"/>
<line x1="200.15" y1="583" x2="200.15" y2="589.4" stroke="#3a3a3a" stroke-width="1.1"/>
<line x1="200.15" y1="309.2" x2="200.15" y2="315.6" stroke="#3a3a3a" stroke-width="1.1"/>
<line x1="225.48" y1="583" x2="225.48" y2="586.4" stroke="#3a3a3a" stroke-width="1.1"/>
<line x1="225.48" y1="309.2" x2="225.48" y2="312.6" stroke="#3a3a3a" stroke-width="1.1"/>
<line x1="250.8" y1="583" x2="250.8" y2="589.4" stroke="#3a3a3a" stroke-width="1.1"/>
<line x1="250.8" y1="309.2" x2="250.8" y2="315.6" stroke="#3a3a3a" stroke-width="1.1"/>
<line x1="276.12" y1="583" x2="276.12" y2="586.4" stroke="#3a3a3a" stroke-width="1.1"/>
<line x1="276.12" y1="309.2" x2="276.12" y2="312.6" stroke="#3a3a3a" stroke-width="1.1"/>
<line x1="301.45" y1="583" x2="301.45" y2="589.4" stroke="#3a3a3a" stroke-width="1.1"/>
<line x1="301.45" y1="309.2" x2="301.45" y2="315.6" stroke="#3a3a3a" stroke-width="1.1"/>
<line x1="326.78" y1="583" x2="326.78" y2="586.4" stroke="#3a3a3a" stroke-width="1.1"/>
<line x1="326.78" y1="309.2" x2="326.78" y2="312.6" stroke="#3a3a3a" stroke-width="1.1"/>
<line x1="352.1" y1="583" x2="352.1" y2="589.4" stroke="#3a3a3a" stroke-width="1.1"/>
<line x1="352.1" y1="309.2" x2="352.1" y2="315.6" stroke="#3a3a3a" stroke-width="1.1"/>
<line x1="377.43" y1="583" x2="377.43" y2="586.4" stroke="#3a3a3a" stroke-width="1.1"/>
<line x1="377.43" y1="309.2" x2="377.43" y2="312.6" stroke="#3a3a3a" stroke-width="1.1"/>
<line x1="402.75" y1="583" x2="402.75" y2="589.4" stroke="#3a3a3a" stroke-width="1.1"/>
<line x1="402.75" y1="309.2" x2="402.75" y2="315.6" stroke="#3a3a3a" stroke-width="1.1"/>
<line x1="70.3" y1="582.62" x2="73.7" y2="582.62" stroke="#3a3a3a" stroke-width="1.1"/>
<line x1="67.1" y1="552.25" x2="73.7" y2="552.25" stroke="#3a3a3a" stroke-width="1.1"/>
<line x1="70.3" y1="521.88" x2="73.7" y2="521.88" stroke="#3a3a3a" stroke-width="1.1"/>
<line x1="67.1" y1="491.5" x2="73.7" y2="491.5" stroke="#3a3a3a" stroke-width="1.1"/>
<line x1="70.3" y1="461.12" x2="73.7" y2="461.12" stroke="#3a3a3a" stroke-width="1.1"/>
<line x1="67.1" y1="430.75" x2="73.7" y2="430.75" stroke="#3a3a3a" stroke-width="1.1"/>
<line x1="70.3" y1="400.38" x2="73.7" y2="400.38" stroke="#3a3a3a" stroke-width="1.1"/>
<line x1="67.1" y1="370" x2="73.7" y2="370" stroke="#3a3a3a" stroke-width="1.1"/>
<line x1="70.3" y1="339.62" x2="73.7" y2="339.62" stroke="#3a3a3a" stroke-width="1.1"/>
<line x1="67.1" y1="309.25" x2="73.7" y2="309.25" stroke="#3a3a3a" stroke-width="1.1"/>
<text x="32.96" y="313.55" font-size="14" textLength="29.16" lengthAdjust="spacingAndGlyphs" fill="#1a1a1a" stroke="#1a1a1a" stroke-width="0.25">0.03</text>
<text x="33.11" y="374.3" font-size="14" textLength="29.16" lengthAdjust="spacingAndGlyphs" fill="#1a1a1a" stroke="#1a1a1a" stroke-width="0.25">0.02</text>
<text x="33.04" y="435.05" font-size="14" textLength="29.16" lengthAdjust="spacingAndGlyphs" fill="#1a1a1a" stroke="#1a1a1a" stroke-width="0.25">0.01</text>
<text x="32.89" y="495.8" font-size="14" textLength="29.16" lengthAdjust="spacingAndGlyphs" fill="#1a1a1a" stroke="#1a1a1a" stroke-width="0.25">0.00</text>
<text x="28.02" y="556.55" font-size="14" textLength="34.15" lengthAdjust="spacingAndGlyphs" fill="#1a1a1a" stroke="#1a1a1a" stroke-width="0.25">-0.01</text>
<text x="94.91" y="606.9" font-size="14.2" textLength="7.9" lengthAdjust="spacingAndGlyphs" fill="#1a1a1a" stroke="#1a1a1a" stroke-width="0.25">5</text>
<text x="141.34" y="606.9" font-size="14.2" textLength="15.8" lengthAdjust="spacingAndGlyphs" fill="#1a1a1a" stroke="#1a1a1a" stroke-width="0.25">10</text>
<text x="192.02" y="606.9" font-size="14.2" textLength="15.8" lengthAdjust="spacingAndGlyphs" fill="#1a1a1a" stroke="#1a1a1a" stroke-width="0.25">15</text>
<text x="242.81" y="606.9" font-size="14.2" textLength="15.8" lengthAdjust="spacingAndGlyphs" fill="#1a1a1a" stroke="#1a1a1a" stroke-width="0.25">20</text>
<text x="293.5" y="606.9" font-size="14.2" textLength="15.8" lengthAdjust="spacingAndGlyphs" fill="#1a1a1a" stroke="#1a1a1a" stroke-width="0.25">25</text>
<text x="344.18" y="606.9" font-size="14.2" textLength="15.8" lengthAdjust="spacingAndGlyphs" fill="#1a1a1a" stroke="#1a1a1a" stroke-width="0.25">30</text>
<text x="394.87" y="606.9" font-size="14.2" textLength="15.8" lengthAdjust="spacingAndGlyphs" fill="#1a1a1a" stroke="#1a1a1a" stroke-width="0.25">35</text>
<text x="7.64" y="299.4" font-size="24.5" textLength="11.95" lengthAdjust="spacingAndGlyphs" fill="#1a1a1a" stroke="#1a1a1a" stroke-width="0.44">c</text>
<g clip-path="url(#clipC)">
<path d="M81.65 336.48 L83.43 347.54 L85.22 357.53 L87 366.59 L88.78 374.84 L90.57 382.4 L92.35 389.34 L94.13 395.73 L95.92 401.64 L97.7 407.13 L99.48 412.22 L101.26 416.98 L103.05 421.42 L104.83 425.58 L106.61 429.49 L108.4 433.16 L110.18 436.62 L111.96 439.88 L113.75 442.97 L115.53 445.89 L117.31 448.66 L119.1 451.29 L120.88 453.79 L122.66 456.17 L124.45 458.43 L126.23 460.6 L128.01 462.66 L129.79 464.64 L131.58 466.53 L133.36 468.34 L135.14 470.08 L136.93 471.74 L138.71 473.34 L140.49 474.88 L142.28 476.36 L144.06 477.79 L145.84 479.16 L147.63 480.48 L149.41 481.76 L151.19 482.99 L152.98 484.18 L154.76 485.33 L156.54 486.44 L158.32 487.51 L160.11 488.56 L161.89 489.56 L163.67 490.54 L165.46 491.49 L167.24 492.41 L169.02 493.3 L170.81 494.16 L172.59 495 L174.37 495.82 L176.16 496.61 L177.94 497.39 L179.72 498.14 L181.51 498.87 L183.29 499.58 L185.07 500.27 L186.86 500.95 L188.64 501.61 L190.42 502.25 L192.2 502.87 L193.99 503.48 L195.77 504.08 L197.55 504.66 L199.34 505.23 L201.12 505.78 L202.9 506.32 L204.69 506.85 L206.47 507.37 L208.25 507.87 L210.04 508.37 L211.82 508.85 L213.6 509.32 L215.39 509.79 L217.17 510.24 L218.95 510.68 L220.73 511.12 L222.52 511.54 L224.3 511.96 L226.08 512.37 L227.87 512.77 L229.65 513.16 L231.43 513.55 L233.22 513.92 L235 514.29 L236.78 514.66 L238.57 515.01 L240.35 515.36 L242.13 515.71 L243.92 516.04 L245.7 516.37 L247.48 516.7 L249.26 517.02 L251.05 517.33 L252.83 517.64 L254.61 517.94 L256.4 518.24 L258.18 518.53 L259.96 518.82 L261.75 519.1 L263.53 519.38 L265.31 519.65 L267.1 519.92 L268.88 520.19 L270.66 520.45 L272.45 520.7 L274.23 520.96 L276.01 521.2 L277.79 521.45 L279.58 521.69 L281.36 521.93 L283.14 522.16 L284.93 522.39 L286.71 522.62 L288.49 522.84 L290.28 523.06 L292.06 523.27 L293.84 523.49 L295.63 523.7 L297.41 523.91 L299.19 524.11 L300.98 524.31 L302.76 524.51 L304.54 524.71 L306.33 524.9 L308.11 525.09 L309.89 525.28 L311.67 525.46 L313.46 525.64 L315.24 525.83 L317.02 526 L318.81 526.18 L320.59 526.35 L322.37 526.52 L324.16 526.69 L325.94 526.86 L327.72 527.02 L329.51 527.19 L331.29 527.35 L333.07 527.5 L334.86 527.66 L336.64 527.82 L338.42 527.97 L340.2 528.12 L341.99 528.27 L343.77 528.41 L345.55 528.56 L347.34 528.7 L349.12 528.85 L350.9 528.99 L352.69 529.12 L354.47 529.26 L356.25 529.4 L358.04 529.53 L359.82 529.66 L361.6 529.79 L363.39 529.92 L365.17 530.05 L366.95 530.18 L368.73 530.3 L370.52 530.43 L372.3 530.55 L374.08 530.67 L375.87 530.79 L377.65 530.91 L379.43 531.02 L381.22 531.14 L383 531.25" fill="none" stroke="#dc2f23" stroke-width="1.2"/>
<path d="M87.2 542.6 L90.4 533.8 L106.9 535.5 L132.6 541.6 L158.4 538.7 L240.6 537.4 L373.3 526.7" fill="none" stroke="#dc2f23" stroke-width="1.1" stroke-dasharray="4.6 4.6"/>
<path d="M87.2 506.5 L90.4 525.5 L106.9 514.8 L132.6 522.2 L158.4 548.7 L240.6 518.4 L373.3 512.2" fill="none" stroke="#1c1c1c" stroke-width="1.1" stroke-dasharray="4.6 4.6"/>
<path d="M87.2 522.2 L90.4 521 L106.9 520.6 L132.6 519.7 L158.4 519.7 L240.6 518.4 L373.3 517.2" fill="none" stroke="#1c1c1c" stroke-width="1" stroke-dasharray="1 1.2"/>
<line x1="87.2" y1="337.3" x2="87.2" y2="390.2" stroke="#e8574f" stroke-width="1"/>
<line x1="84.2" y1="337.3" x2="90.2" y2="337.3" stroke="#e8574f" stroke-width="1"/>
<line x1="84.2" y1="390.2" x2="90.2" y2="390.2" stroke="#e8574f" stroke-width="1"/>
<line x1="87.2" y1="510.6" x2="87.2" y2="566" stroke="#e8574f" stroke-width="1"/>
<line x1="84.2" y1="510.6" x2="90.2" y2="510.6" stroke="#e8574f" stroke-width="1"/>
<line x1="84.2" y1="566" x2="90.2" y2="566" stroke="#e8574f" stroke-width="1"/>
<line x1="87.2" y1="490.8" x2="87.2" y2="522.2" stroke="#1c1c1c" stroke-width="1"/>
<line x1="84.2" y1="490.8" x2="90.2" y2="490.8" stroke="#1c1c1c" stroke-width="1"/>
<line x1="84.2" y1="522.2" x2="90.2" y2="522.2" stroke="#1c1c1c" stroke-width="1"/>
<line x1="90.4" y1="325.8" x2="90.4" y2="463.6" stroke="#e8574f" stroke-width="1"/>
<line x1="87.4" y1="325.8" x2="93.4" y2="325.8" stroke="#e8574f" stroke-width="1"/>
<line x1="87.4" y1="463.6" x2="93.4" y2="463.6" stroke="#e8574f" stroke-width="1"/>
<line x1="90.4" y1="510" x2="90.4" y2="557.8" stroke="#e8574f" stroke-width="1"/>
<line x1="87.4" y1="510" x2="93.4" y2="510" stroke="#e8574f" stroke-width="1"/>
<line x1="87.4" y1="557.8" x2="93.4" y2="557.8" stroke="#e8574f" stroke-width="1"/>
<line x1="90.4" y1="497" x2="90.4" y2="557" stroke="#1c1c1c" stroke-width="1"/>
<line x1="87.4" y1="497" x2="93.4" y2="497" stroke="#1c1c1c" stroke-width="1"/>
<line x1="87.4" y1="557" x2="93.4" y2="557" stroke="#1c1c1c" stroke-width="1"/>
<line x1="106.9" y1="365.7" x2="106.9" y2="451.9" stroke="#e8574f" stroke-width="1"/>
<line x1="103.9" y1="365.7" x2="109.9" y2="365.7" stroke="#e8574f" stroke-width="1"/>
<line x1="103.9" y1="451.9" x2="109.9" y2="451.9" stroke="#e8574f" stroke-width="1"/>
<line x1="106.9" y1="504.8" x2="106.9" y2="566.1" stroke="#e8574f" stroke-width="1"/>
<line x1="103.9" y1="504.8" x2="109.9" y2="504.8" stroke="#e8574f" stroke-width="1"/>
<line x1="103.9" y1="566.1" x2="109.9" y2="566.1" stroke="#e8574f" stroke-width="1"/>
<line x1="106.9" y1="503" x2="106.9" y2="527" stroke="#1c1c1c" stroke-width="1"/>
<line x1="103.9" y1="503" x2="109.9" y2="503" stroke="#1c1c1c" stroke-width="1"/>
<line x1="103.9" y1="527" x2="109.9" y2="527" stroke="#1c1c1c" stroke-width="1"/>
<line x1="132.6" y1="421.6" x2="132.6" y2="570.7" stroke="#e8574f" stroke-width="1"/>
<line x1="129.6" y1="421.6" x2="135.6" y2="421.6" stroke="#e8574f" stroke-width="1"/>
<line x1="129.6" y1="570.7" x2="135.6" y2="570.7" stroke="#e8574f" stroke-width="1"/>
<line x1="132.6" y1="510.6" x2="132.6" y2="545" stroke="#e8574f" stroke-width="1"/>
<line x1="129.6" y1="510.6" x2="135.6" y2="510.6" stroke="#e8574f" stroke-width="1"/>
<line x1="129.6" y1="545" x2="135.6" y2="545" stroke="#e8574f" stroke-width="1"/>
<line x1="132.6" y1="503.5" x2="132.6" y2="538.7" stroke="#1c1c1c" stroke-width="1"/>
<line x1="129.6" y1="503.5" x2="135.6" y2="503.5" stroke="#1c1c1c" stroke-width="1"/>
<line x1="129.6" y1="538.7" x2="135.6" y2="538.7" stroke="#1c1c1c" stroke-width="1"/>
<line x1="158.4" y1="487.6" x2="158.4" y2="532" stroke="#e8574f" stroke-width="1"/>
<line x1="155.4" y1="487.6" x2="161.4" y2="487.6" stroke="#e8574f" stroke-width="1"/>
<line x1="155.4" y1="532" x2="161.4" y2="532" stroke="#e8574f" stroke-width="1"/>
<line x1="158.4" y1="532.1" x2="158.4" y2="545" stroke="#e8574f" stroke-width="1"/>
<line x1="155.4" y1="532.1" x2="161.4" y2="532.1" stroke="#e8574f" stroke-width="1"/>
<line x1="155.4" y1="545" x2="161.4" y2="545" stroke="#e8574f" stroke-width="1"/>
<line x1="158.4" y1="532" x2="158.4" y2="565.2" stroke="#1c1c1c" stroke-width="1"/>
<line x1="155.4" y1="532" x2="161.4" y2="532" stroke="#1c1c1c" stroke-width="1"/>
<line x1="155.4" y1="565.2" x2="161.4" y2="565.2" stroke="#1c1c1c" stroke-width="1"/>
<line x1="240.6" y1="506.3" x2="240.6" y2="557.1" stroke="#e8574f" stroke-width="1"/>
<line x1="237.6" y1="506.3" x2="243.6" y2="506.3" stroke="#e8574f" stroke-width="1"/>
<line x1="237.6" y1="557.1" x2="243.6" y2="557.1" stroke="#e8574f" stroke-width="1"/>
<line x1="240.6" y1="506.3" x2="240.6" y2="557.1" stroke="#e8574f" stroke-width="1"/>
<line x1="237.6" y1="506.3" x2="243.6" y2="506.3" stroke="#e8574f" stroke-width="1"/>
<line x1="237.6" y1="557.1" x2="243.6" y2="557.1" stroke="#e8574f" stroke-width="1"/>
<line x1="240.6" y1="491.6" x2="240.6" y2="545.6" stroke="#1c1c1c" stroke-width="1"/>
<line x1="237.6" y1="491.6" x2="243.6" y2="491.6" stroke="#1c1c1c" stroke-width="1"/>
<line x1="237.6" y1="545.6" x2="243.6" y2="545.6" stroke="#1c1c1c" stroke-width="1"/>
<line x1="373.3" y1="512" x2="373.3" y2="536.2" stroke="#e8574f" stroke-width="1"/>
<line x1="370.3" y1="512" x2="376.3" y2="512" stroke="#e8574f" stroke-width="1"/>
<line x1="370.3" y1="536.2" x2="376.3" y2="536.2" stroke="#e8574f" stroke-width="1"/>
<line x1="373.3" y1="515" x2="373.3" y2="540.4" stroke="#e8574f" stroke-width="1"/>
<line x1="370.3" y1="515" x2="376.3" y2="515" stroke="#e8574f" stroke-width="1"/>
<line x1="370.3" y1="540.4" x2="376.3" y2="540.4" stroke="#e8574f" stroke-width="1"/>
<line x1="373.3" y1="496.4" x2="373.3" y2="528" stroke="#1c1c1c" stroke-width="1"/>
<line x1="370.3" y1="496.4" x2="376.3" y2="496.4" stroke="#1c1c1c" stroke-width="1"/>
<line x1="370.3" y1="528" x2="376.3" y2="528" stroke="#1c1c1c" stroke-width="1"/>
<rect x="82.9" y="538.3" width="8.6" height="8.6" fill="none" stroke="#dc2f23" stroke-width="1"/>
<circle cx="87.2" cy="506.5" r="5" fill="none" stroke="#1c1c1c" stroke-width="1.1"/>
<circle cx="87.2" cy="522.2" r="4.1" fill="#1c1c1c" stroke="none" stroke-width="0"/>
<rect x="83.8" y="360.2" width="6.8" height="6.8" fill="#dc2f23" stroke="none" stroke-width="0"/>
<rect x="86.1" y="529.5" width="8.6" height="8.6" fill="none" stroke="#dc2f23" stroke-width="1"/>
<circle cx="90.4" cy="525.5" r="5" fill="none" stroke="#1c1c1c" stroke-width="1.1"/>
<circle cx="90.4" cy="521" r="4.1" fill="#1c1c1c" stroke="none" stroke-width="0"/>
<rect x="87" y="391.9" width="6.8" height="6.8" fill="#dc2f23" stroke="none" stroke-width="0"/>
<rect x="102.6" y="531.2" width="8.6" height="8.6" fill="none" stroke="#dc2f23" stroke-width="1"/>
<circle cx="106.9" cy="514.8" r="5" fill="none" stroke="#1c1c1c" stroke-width="1.1"/>
<circle cx="106.9" cy="520.6" r="4.1" fill="#1c1c1c" stroke="none" stroke-width="0"/>
<rect x="103.5" y="405.8" width="6.8" height="6.8" fill="#dc2f23" stroke="none" stroke-width="0"/>
<rect x="128.3" y="537.3" width="8.6" height="8.6" fill="none" stroke="#dc2f23" stroke-width="1"/>
<circle cx="132.6" cy="522.2" r="5" fill="none" stroke="#1c1c1c" stroke-width="1.1"/>
<circle cx="132.6" cy="519.7" r="4.1" fill="#1c1c1c" stroke="none" stroke-width="0"/>
<rect x="129.2" y="462.9" width="6.8" height="6.8" fill="#dc2f23" stroke="none" stroke-width="0"/>
<rect x="154.1" y="534.4" width="8.6" height="8.6" fill="none" stroke="#dc2f23" stroke-width="1"/>
<circle cx="158.4" cy="548.7" r="5" fill="none" stroke="#1c1c1c" stroke-width="1.1"/>
<circle cx="158.4" cy="519.7" r="4.1" fill="#1c1c1c" stroke="none" stroke-width="0"/>
<rect x="155" y="506.3" width="6.8" height="6.8" fill="#dc2f23" stroke="none" stroke-width="0"/>
<rect x="236.3" y="533.1" width="8.6" height="8.6" fill="none" stroke="#dc2f23" stroke-width="1"/>
<circle cx="240.6" cy="518.4" r="5" fill="none" stroke="#1c1c1c" stroke-width="1.1"/>
<circle cx="240.6" cy="518.4" r="4.1" fill="#1c1c1c" stroke="none" stroke-width="0"/>
<rect x="237.2" y="528.2" width="6.8" height="6.8" fill="#dc2f23" stroke="none" stroke-width="0"/>
<rect x="369" y="522.4" width="8.6" height="8.6" fill="none" stroke="#dc2f23" stroke-width="1"/>
<circle cx="373.3" cy="512.2" r="5" fill="none" stroke="#1c1c1c" stroke-width="1.1"/>
<circle cx="373.3" cy="517.2" r="4.1" fill="#1c1c1c" stroke="none" stroke-width="0"/>
<rect x="369.9" y="522.7" width="6.8" height="6.8" fill="#dc2f23" stroke="none" stroke-width="0"/>
</g>
<line x1="384.2" y1="524.4" x2="408.2" y2="524.4" stroke="#1c1c1c" stroke-width="1.2"/>
<line x1="384.8" y1="531.5" x2="408.8" y2="531.5" stroke="#dc2f23" stroke-width="1.2"/>
<text x="386.63" y="514.7" font-size="15.2" textLength="14.03" lengthAdjust="spacingAndGlyphs" fill="#1a1a1a" stroke="#1a1a1a" stroke-width="0.27">W</text>
<text x="401.5" y="521.7" font-size="9" textLength="7.13" lengthAdjust="spacingAndGlyphs" fill="#1a1a1a" stroke="#1a1a1a" stroke-width="0.16">∞</text>
<text x="199.5" y="340.4" font-size="14.1" textLength="106.65" lengthAdjust="spacingAndGlyphs" fill="#1a1a1a" stroke="#1a1a1a" stroke-width="0.25">Gaussian Engine</text>
<path d="M199.5 355.8 L231.6 355.8" fill="none" stroke="#1c1c1c" stroke-width="1.1" stroke-dasharray="4.4 5"/>
<circle cx="218.5" cy="355.8" r="5" fill="none" stroke="#1c1c1c" stroke-width="1.1"/>
<path d="M199.5 381.3 L237.2 381.3" fill="none" stroke="#333" stroke-width="0.9" stroke-dasharray="1 1"/>
<circle cx="218.5" cy="381.3" r="4.15" fill="#1c1c1c" stroke="none" stroke-width="0"/>
<text x="199.98" y="428.3" font-size="14" textLength="189.44" lengthAdjust="spacingAndGlyphs" fill="#1a1a1a" stroke="#1a1a1a" stroke-width="0.25">Non-Gaussian Engine (κ = 20)</text>
<path d="M199.8 443.8 L231.3 443.8" fill="none" stroke="#e8655e" stroke-width="1.3" stroke-dasharray="4.4 5"/>
<rect x="214.0" y="439.4" width="9.2" height="9.2" fill="white" stroke="#dc2f23" stroke-width="1.1"/>
<rect x="215.1" y="465.9" width="6.8" height="6.8" fill="#dc2f23" stroke="none" stroke-width="0"/>
<path d="M244.2 350.5L240.6 357.4L244.2 364.3" fill="none" stroke="#1a1a1a" stroke-width="1"/>
<text x="246.14" y="360.9" font-size="13.6" textLength="11.81" lengthAdjust="spacingAndGlyphs" fill="#1a1a1a" stroke="#1a1a1a" stroke-width="0.24">W</text>
<text x="258.25" y="366.8" font-size="9.6" textLength="12.96" lengthAdjust="spacingAndGlyphs" fill="#1a1a1a" stroke="#1a1a1a" stroke-width="0.17">cyc</text>
<path d="M272.3 350.5L275.9 357.4L272.3 364.3" fill="none" stroke="#1a1a1a" stroke-width="1"/>
<text x="241.03" y="386.4" font-size="13.6" textLength="17.74" lengthAdjust="spacingAndGlyphs" fill="#1a1a1a" stroke="#1a1a1a" stroke-width="0.24">W*</text>
<path d="M243.9 438.3L240.3 445.2L243.9 452.1" fill="none" stroke="#1a1a1a" stroke-width="1"/>
<text x="245.84" y="448.7" font-size="13.6" textLength="11.81" lengthAdjust="spacingAndGlyphs" fill="#1a1a1a" stroke="#1a1a1a" stroke-width="0.24">W</text>
<text x="257.95" y="454.6" font-size="9.6" textLength="12.96" lengthAdjust="spacingAndGlyphs" fill="#1a1a1a" stroke="#1a1a1a" stroke-width="0.17">cyc</text>
<path d="M272 438.3L275.6 445.2L272 452.1" fill="none" stroke="#1a1a1a" stroke-width="1"/>
<text x="240.63" y="474.4" font-size="13.6" textLength="17.84" lengthAdjust="spacingAndGlyphs" fill="#1a1a1a" stroke="#1a1a1a" stroke-width="0.24">W*</text>
<text x="231.54" y="631.7" font-size="17" textLength="31.34" lengthAdjust="spacingAndGlyphs" fill="#1a1a1a" stroke="#1a1a1a" stroke-width="0.3">τ (s)</text>
<g transform="translate(14.2 518) rotate(-90)">
<path d="M4.7 -13.4L0.3 -5.1L4.7 3.2" fill="none" stroke="#1a1a1a" stroke-width="1.2"/>
<text x="5.91" y="0" font-size="16" textLength="16.66" lengthAdjust="spacingAndGlyphs" fill="#1a1a1a" stroke="#1a1a1a" stroke-width="0.29">W</text>
<text x="23.08" y="7.8" font-size="10" textLength="15.68" lengthAdjust="spacingAndGlyphs" fill="#1a1a1a" stroke="#1a1a1a" stroke-width="0.18">cyc</text>
<path d="M39.5 -13.4L43.9 -5.1L39.5 3.2" fill="none" stroke="#1a1a1a" stroke-width="1.2"/>
<text x="44.42" y="0" font-size="16" textLength="6.11" lengthAdjust="spacingAndGlyphs" fill="#1a1a1a" stroke="#1a1a1a" stroke-width="0.29">,</text>
<text x="51.9" y="0" font-size="16" textLength="26.36" lengthAdjust="spacingAndGlyphs" fill="#1a1a1a" stroke="#1a1a1a" stroke-width="0.29">W*</text>
<text x="79.92" y="0" font-size="16" textLength="17.74" lengthAdjust="spacingAndGlyphs" fill="#1a1a1a" stroke="#1a1a1a" stroke-width="0.29">(k</text>
<text x="96.98" y="9.4" font-size="9.2" textLength="5.98" lengthAdjust="spacingAndGlyphs" fill="#1a1a1a" stroke="#1a1a1a" stroke-width="0.16">B</text>
<text x="102.14" y="0" font-size="16" textLength="10.93" lengthAdjust="spacingAndGlyphs" fill="#1a1a1a" stroke="#1a1a1a" stroke-width="0.29">T</text>
<text x="112.45" y="9.4" font-size="9.2" textLength="7.96" lengthAdjust="spacingAndGlyphs" fill="#1a1a1a" stroke="#1a1a1a" stroke-width="0.16">C</text>
<text x="120.31" y="0" font-size="16" textLength="6.28" lengthAdjust="spacingAndGlyphs" fill="#1a1a1a" stroke="#1a1a1a" stroke-width="0.29">)</text>
</g>
<rect x="499.8" y="301.4" width="49" height="276.8" fill="#c8c8c8"/>
<line x1="499.8" y1="508.5" x2="684.2" y2="508.5" stroke="#505050" stroke-width="0.9"/>
<rect x="499.8" y="301.4" width="184.4" height="276.8" fill="none" stroke="#3a3a3a" stroke-width="1.2"/>
<line x1="499.52" y1="578.2" x2="499.52" y2="582" stroke="#3a3a3a" stroke-width="1.1"/>
<line x1="514.63" y1="578.2" x2="514.63" y2="584.6" stroke="#3a3a3a" stroke-width="1.1"/>
<line x1="529.75" y1="578.2" x2="529.75" y2="582" stroke="#3a3a3a" stroke-width="1.1"/>
<line x1="544.87" y1="578.2" x2="544.87" y2="584.6" stroke="#3a3a3a" stroke-width="1.1"/>
<line x1="559.99" y1="578.2" x2="559.99" y2="582" stroke="#3a3a3a" stroke-width="1.1"/>
<line x1="575.11" y1="578.2" x2="575.11" y2="584.6" stroke="#3a3a3a" stroke-width="1.1"/>
<line x1="590.22" y1="578.2" x2="590.22" y2="582" stroke="#3a3a3a" stroke-width="1.1"/>
<line x1="605.34" y1="578.2" x2="605.34" y2="584.6" stroke="#3a3a3a" stroke-width="1.1"/>
<line x1="620.46" y1="578.2" x2="620.46" y2="582" stroke="#3a3a3a" stroke-width="1.1"/>
<line x1="635.57" y1="578.2" x2="635.57" y2="584.6" stroke="#3a3a3a" stroke-width="1.1"/>
<line x1="650.69" y1="578.2" x2="650.69" y2="582" stroke="#3a3a3a" stroke-width="1.1"/>
<line x1="665.81" y1="578.2" x2="665.81" y2="584.6" stroke="#3a3a3a" stroke-width="1.1"/>
<line x1="680.93" y1="578.2" x2="680.93" y2="582" stroke="#3a3a3a" stroke-width="1.1"/>
<line x1="493.3" y1="578.2" x2="499.8" y2="578.2" stroke="#3a3a3a" stroke-width="1.1"/>
<line x1="496.4" y1="543.6" x2="499.8" y2="543.6" stroke="#3a3a3a" stroke-width="1.1"/>
<line x1="493.3" y1="509" x2="499.8" y2="509" stroke="#3a3a3a" stroke-width="1.1"/>
<line x1="496.4" y1="474.4" x2="499.8" y2="474.4" stroke="#3a3a3a" stroke-width="1.1"/>
<line x1="493.3" y1="439.8" x2="499.8" y2="439.8" stroke="#3a3a3a" stroke-width="1.1"/>
<line x1="496.4" y1="405.2" x2="499.8" y2="405.2" stroke="#3a3a3a" stroke-width="1.1"/>
<line x1="493.3" y1="370.6" x2="499.8" y2="370.6" stroke="#3a3a3a" stroke-width="1.1"/>
<line x1="496.4" y1="336" x2="499.8" y2="336" stroke="#3a3a3a" stroke-width="1.1"/>
<line x1="493.3" y1="301.4" x2="499.8" y2="301.4" stroke="#3a3a3a" stroke-width="1.1"/>
<text x="468.9" y="305.7" font-size="14" textLength="19.46" lengthAdjust="spacingAndGlyphs" fill="#1a1a1a" stroke="#1a1a1a" stroke-width="0.25">1.6</text>
<text x="468.76" y="374.9" font-size="14" textLength="19.46" lengthAdjust="spacingAndGlyphs" fill="#1a1a1a" stroke="#1a1a1a" stroke-width="0.25">1.4</text>
<text x="469.04" y="444.1" font-size="14" textLength="19.46" lengthAdjust="spacingAndGlyphs" fill="#1a1a1a" stroke="#1a1a1a" stroke-width="0.25">1.2</text>
<text x="468.83" y="513.3" font-size="14" textLength="19.46" lengthAdjust="spacingAndGlyphs" fill="#1a1a1a" stroke="#1a1a1a" stroke-width="0.25">1.0</text>
<text x="468.9" y="582.5" font-size="14" textLength="19.46" lengthAdjust="spacingAndGlyphs" fill="#1a1a1a" stroke="#1a1a1a" stroke-width="0.25">0.8</text>
<text x="510.69" y="601.5" font-size="14.2" textLength="7.9" lengthAdjust="spacingAndGlyphs" fill="#1a1a1a" stroke="#1a1a1a" stroke-width="0.25">5</text>
<text x="536.7" y="601.5" font-size="14.2" textLength="15.8" lengthAdjust="spacingAndGlyphs" fill="#1a1a1a" stroke="#1a1a1a" stroke-width="0.25">10</text>
<text x="566.98" y="601.5" font-size="14.2" textLength="15.8" lengthAdjust="spacingAndGlyphs" fill="#1a1a1a" stroke="#1a1a1a" stroke-width="0.25">15</text>
<text x="597.35" y="601.5" font-size="14.2" textLength="15.8" lengthAdjust="spacingAndGlyphs" fill="#1a1a1a" stroke="#1a1a1a" stroke-width="0.25">20</text>
<text x="627.62" y="601.5" font-size="14.2" textLength="15.8" lengthAdjust="spacingAndGlyphs" fill="#1a1a1a" stroke="#1a1a1a" stroke-width="0.25">25</text>
<text x="657.89" y="601.5" font-size="14.2" textLength="15.8" lengthAdjust="spacingAndGlyphs" fill="#1a1a1a" stroke="#1a1a1a" stroke-width="0.25">30</text>
<text x="431.82" y="305.6" font-size="26" textLength="15.08" lengthAdjust="spacingAndGlyphs" fill="#1a1a1a" stroke="#1a1a1a" stroke-width="0.46">d</text>
<text x="577.05" y="626.5" font-size="17" textLength="31.14" lengthAdjust="spacingAndGlyphs" fill="#1a1a1a" stroke="#1a1a1a" stroke-width="0.3">τ (s)</text>
<circle cx="507.6" cy="514.1" r="4.3" fill="#1c1c1c" stroke="none" stroke-width="0"/>
<circle cx="509.4" cy="497.7" r="4.3" fill="#1c1c1c" stroke="none" stroke-width="0"/>
<circle cx="519.2" cy="541.9" r="4.3" fill="#1c1c1c" stroke="none" stroke-width="0"/>
<circle cx="534.8" cy="537.6" r="4.3" fill="#1c1c1c" stroke="none" stroke-width="0"/>
<circle cx="550.1" cy="525.8" r="4.3" fill="#1c1c1c" stroke="none" stroke-width="0"/>
<circle cx="599.5" cy="557.3" r="4.3" fill="#1c1c1c" stroke="none" stroke-width="0"/>
<circle cx="678.4" cy="533.8" r="4.3" fill="#1c1c1c" stroke="none" stroke-width="0"/>
<rect x="503.7" y="382.1" width="7.8" height="7.8" fill="#dc2f23" stroke="none" stroke-width="0"/>
<rect x="505.5" y="550.1" width="7.8" height="7.8" fill="#dc2f23" stroke="none" stroke-width="0"/>
<rect x="515.5" y="339.1" width="7.8" height="7.8" fill="#dc2f23" stroke="none" stroke-width="0"/>
<rect x="530.9" y="546.9" width="7.8" height="7.8" fill="#dc2f23" stroke="none" stroke-width="0"/>
<rect x="546.2" y="446.6" width="7.8" height="7.8" fill="#dc2f23" stroke="none" stroke-width="0"/>
<rect x="595.3" y="507.5" width="7.8" height="7.8" fill="#dc2f23" stroke="none" stroke-width="0"/>
<rect x="674.9" y="475.3" width="7.8" height="7.8" fill="#dc2f23" stroke="none" stroke-width="0"/>
<circle cx="553.6" cy="331.9" r="4.3" fill="#1c1c1c" stroke="none" stroke-width="0"/>
<rect x="550.05" y="342.85" width="7.7" height="7.7" fill="#dc2f23" stroke="none" stroke-width="0"/>
<text x="559.45" y="335" font-size="9.7" textLength="69.07" lengthAdjust="spacingAndGlyphs" fill="#222" stroke="#222" stroke-width="0.17">Gaussian Engine</text>
<text x="559.16" y="350.1" font-size="9.7" textLength="124.13" lengthAdjust="spacingAndGlyphs" fill="#222" stroke="#222" stroke-width="0.17">Non-Gaussian Engine (κ = 20)</text>
<g transform="translate(448 489) rotate(-90)">
<text x="-1.04" y="0" font-size="19" textLength="10.34" lengthAdjust="spacingAndGlyphs" fill="#1a1a1a" stroke="#1a1a1a" stroke-width="0.34">k</text>
<path d="M15.3 -13.5L10.5 -4.8L15.3 3.9" fill="none" stroke="#1a1a1a" stroke-width="1.1"/>
<text x="16.25" y="0" font-size="19" textLength="7.71" lengthAdjust="spacingAndGlyphs" fill="#1a1a1a" stroke="#1a1a1a" stroke-width="0.34">x</text>
<text x="25.07" y="-10.5" font-size="10.5" textLength="5.87" lengthAdjust="spacingAndGlyphs" fill="#1a1a1a" stroke="#1a1a1a" stroke-width="0.19">2</text>
<path d="M31.7 -13.5L36.5 -4.8L31.7 3.9" fill="none" stroke="#1a1a1a" stroke-width="1.1"/>
<text x="43.4" y="0" font-size="19" textLength="5.56" lengthAdjust="spacingAndGlyphs" fill="#1a1a1a" stroke="#1a1a1a" stroke-width="0.34">/</text>
<text x="54.51" y="0" font-size="19" textLength="9.89" lengthAdjust="spacingAndGlyphs" fill="#1a1a1a" stroke="#1a1a1a" stroke-width="0.34">k</text>
<text x="65.4" y="7.7" font-size="10.5" textLength="8.35" lengthAdjust="spacingAndGlyphs" fill="#1a1a1a" stroke="#1a1a1a" stroke-width="0.19">B</text>
<text x="72.75" y="0" font-size="19" textLength="10.61" lengthAdjust="spacingAndGlyphs" fill="#1a1a1a" stroke="#1a1a1a" stroke-width="0.34">T</text>
<text x="83.26" y="7.7" font-size="10.5" textLength="7.61" lengthAdjust="spacingAndGlyphs" fill="#1a1a1a" stroke="#1a1a1a" stroke-width="0.19">H</text>
</g>
</svg>
</body></html>
